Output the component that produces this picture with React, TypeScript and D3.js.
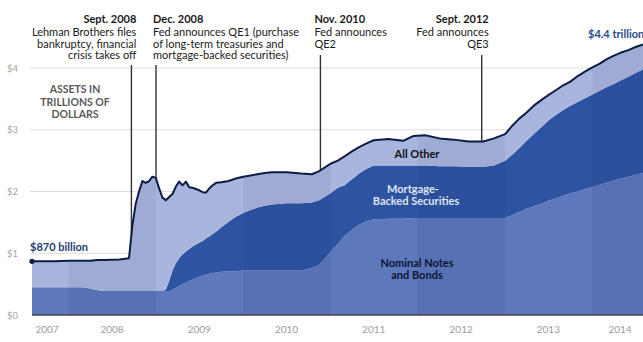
import React from "react";
import * as d3 from "d3";

const dates = [
  "2007-08-01","2007-11-01","2008-01-01","2008-03-01","2008-04-01","2008-05-01","2008-06-01","2008-08-01","2008-09-10","2008-09-24",
  "2008-10-08","2008-10-22","2008-11-05","2008-11-19","2008-12-03","2008-12-17","2008-12-31","2009-01-14","2009-01-28","2009-02-11",
  "2009-02-25","2009-03-11","2009-03-25","2009-04-08","2009-04-22","2009-05-06","2009-05-20","2009-06-03","2009-06-17","2009-07-01",
  "2009-07-15","2009-07-29","2009-08-12","2009-08-26","2009-09-09","2009-10-01","2009-11-01","2009-12-01","2010-01-01","2010-02-01",
  "2010-03-01","2010-04-01","2010-05-01","2010-07-01","2010-09-01","2010-10-15","2010-11-15","2011-01-01","2011-02-01","2011-03-01",
  "2011-04-01","2011-05-01","2011-06-01","2011-07-01","2011-09-01","2011-11-01","2011-12-15","2012-02-01","2012-04-01","2012-06-01",
  "2012-08-01","2012-10-01","2012-11-15","2013-01-01","2013-02-01","2013-03-01","2013-04-01","2013-05-01","2013-06-01","2013-07-01",
  "2013-08-01","2013-09-01","2013-10-01","2013-11-01","2013-12-01","2014-01-01","2014-02-01","2014-03-01","2014-04-01","2014-05-01",
  "2014-06-01","2014-07-01","2014-08-01",
];

const totalAssets = [
  0.87,0.87,0.88,0.88,0.88,0.89,0.89,0.9,0.92,1.45,
  1.8,2.0,2.17,2.14,2.17,2.24,2.22,2.05,1.9,1.86,
  1.91,1.96,2.08,2.16,2.1,2.16,2.07,2.06,2.04,2.02,
  1.99,1.98,2.05,2.1,2.14,2.15,2.17,2.21,2.24,2.26,
  2.28,2.3,2.31,2.31,2.29,2.28,2.33,2.45,2.5,2.57,
  2.65,2.72,2.78,2.83,2.85,2.82,2.9,2.91,2.86,2.84,
  2.81,2.81,2.86,2.93,3.07,3.18,3.28,3.39,3.48,3.56,
  3.64,3.72,3.78,3.87,3.94,4.01,4.07,4.14,4.2,4.25,
  4.29,4.34,4.38,
];

const nominalNotes = [
  0.45,0.45,0.45,0.45,0.43,0.4,0.39,0.39,0.39,0.39,
  0.39,0.39,0.39,0.39,0.39,0.39,0.39,0.39,0.39,0.39,
  0.39,0.41,0.44,0.47,0.5,0.53,0.55,0.57,0.6,0.62,
  0.64,0.65,0.67,0.68,0.69,0.7,0.71,0.71,0.72,0.72,
  0.72,0.72,0.72,0.72,0.72,0.76,0.81,1.02,1.15,1.28,
  1.38,1.46,1.52,1.55,1.56,1.56,1.57,1.57,1.57,1.57,
  1.57,1.57,1.57,1.57,1.62,1.67,1.72,1.76,1.8,1.85,
  1.89,1.93,1.97,2.0,2.04,2.07,2.11,2.14,2.18,2.21,
  2.24,2.27,2.3,
];

const mortgageBacked = [
  0,0,0,0,0,0,0,0,0,0,
  0,0,0,0,0,0,0,0,0,0.02,
  0.16,0.31,0.4,0.45,0.48,0.5,0.52,0.54,0.54,0.55,
  0.56,0.59,0.6,0.63,0.66,0.72,0.8,0.88,0.93,0.98,
  1.02,1.05,1.07,1.09,1.09,1.06,1.05,0.95,0.91,0.82,
  0.82,0.83,0.85,0.87,0.86,0.86,0.85,0.85,0.84,0.84,
  0.83,0.83,0.85,0.93,0.98,1.03,1.1,1.17,1.24,1.3,
  1.35,1.39,1.42,1.45,1.47,1.5,1.52,1.55,1.56,1.59,
  1.62,1.65,1.68,
];

const yTicks = [0, 1, 2, 3, 4];
const yearLabels = ["2007","2008","2009","2010","2011","2012","2013","2014"];

const eventDates = ["2008-09-20", "2009-01-01", "2010-11-20", "2012-09-25"];
const eventTitles = ["Sept. 2008", "Dec. 2008", "Nov. 2010", "Sept. 2012"];
const eventTexts = [
  ["Lehman Brothers files", "bankruptcy, financial", "crisis takes off"],
  ["Fed announces QE1 (purchase", "of long-term treasuries and", "mortgage-backed securities)"],
  ["Fed announces", "QE2"],
  ["Fed announces", "QE3"],
];
const eventSides = ["right", "left", "left", "right"];

const W = 643;
const H = 342;
const FONT = "Lato, 'Open Sans', sans-serif";

export default function App() {
  const parse = d3.timeParse("%Y-%m-%d");
  const rows = dates.map((d, i) => ({
    date: parse(d) as Date,
    nominal: nominalNotes[i],
    mbs: mortgageBacked[i],
    other: Math.max(0, totalAssets[i] - nominalNotes[i] - mortgageBacked[i]),
    total: totalAssets[i],
  }));

  const x = d3.scaleTime()
    .domain([parse("2007-08-01") as Date, parse("2014-08-01") as Date])
    .range([32, W]);
  const y = d3.scaleLinear().domain([0, 4]).range([315, 68]);

  const stack = d3.stack<any>().keys(["nominal", "mbs", "other"]);
  const series = stack(rows);
  const colors = ["#5d78bb", "#2e54a1", "#a8b5dc"];

  const area = d3.area<any>()
    .x((d: any) => x(d.data.date))
    .y0((d: any) => y(d[0]))
    .y1((d: any) => y(d[1]));

  const totalLine = d3.line<any>()
    .x((d: any) => x(d.date))
    .y((d: any) => y(d.total));

  const clipArea = d3.area<any>()
    .x((d: any) => x(d.date))
    .y0(y(0))
    .y1((d: any) => y(d.total));

  const bisect = d3.bisector((d: any) => d.date).left;
  const totalAt = (dt: Date) => {
    const i = Math.max(1, Math.min(rows.length - 1, bisect(rows, dt)));
    const a = rows[i - 1], b = rows[i];
    const t = (dt.getTime() - a.date.getTime()) / (b.date.getTime() - a.date.getTime());
    return a.total + (b.total - a.total) * t;
  };

  const years = d3.range(2007, 2015);
  const first = rows[0];
  const last = rows[rows.length - 1];

  return (
    <svg width={W} height={H} style={{ position: "absolute", left: 0, top: 0, background: "#fff" }} fontFamily={FONT}>
      <defs>
        <clipPath id="under">
          <path d={clipArea(rows) as string} />
        </clipPath>
      </defs>

      {/* gridlines */}
      {yTicks.filter((t) => t > 0).map((t) => (
        <line key={t} x1={30} x2={W} y1={y(t)} y2={y(t)} stroke="#dcdcdc" strokeWidth={1} />
      ))}
      {yTicks.map((t) => (
        <text key={"yl" + t} x={7} y={y(t) + 3.5} fontSize={9.5} fill="#a5a5a5">{"$" + t}</text>
      ))}

      {/* stacked areas */}
      {series.map((s, i) => (
        <path key={i} d={area(s as any) as string} fill={colors[i]} />
      ))}

      {/* alternating year bands */}
      <g clipPath="url(#under)">
        {years.filter((yr) => yr % 2 === 0).map((yr) => {
          const x0 = x(new Date(yr, 0, 1));
          const x1 = x(new Date(yr + 1, 0, 1));
          return <rect key={yr} x={x0} y={0} width={x1 - x0} height={y(0)} fill="#0a1640" opacity={0.06} />;
        })}
      </g>

      {/* annotation lines */}
      {eventDates.map((ed, i) => {
        const dt = parse(ed) as Date;
        const lx = x(dt);
        const top = i < 2 ? 65 : 55;
        return <line key={"ev" + i} x1={lx} x2={lx} y1={top} y2={y(totalAt(dt))} stroke="#333" strokeWidth={1.4} />;
      })}

      {/* total line */}
      <path d={totalLine(rows) as string} fill="none" stroke="#0c1c44" strokeWidth={2} strokeLinejoin="round" />
      <circle cx={x(first.date)} cy={y(first.total)} r={2.6} fill="#0c1c44" />

      {/* bottom axis */}
      <line x1={32} x2={W} y1={y(0)} y2={y(0)} stroke="#444" strokeWidth={1.5} />
      {yearLabels.map((lab, i) => {
        const mid = x(new Date(years[i], 6, 1));
        const cx = Math.min(Math.max(mid, 47), 620);
        return (
          <text key={lab} x={cx} y={333} textAnchor="middle" fontSize={10} fill="#9c9c9c">{lab}</text>
        );
      })}

      {/* event text */}
      {eventDates.map((ed, i) => {
        const lx = x(parse(ed) as Date);
        const right = eventSides[i] === "right";
        const tx = right ? lx + (i === 0 ? 5 : 7) : lx - (i === 1 ? 3 : 6);
        const anchor = right ? "end" : "start";
        return (
          <g key={"et" + i}>
            <text x={tx} y={23} textAnchor={anchor} fontSize={11} fontWeight={700} fill="#1a1a1a">{eventTitles[i]}</text>
            {eventTexts[i].map((ln, j) => (
              <text key={j} x={tx} y={36 + j * 11.6} textAnchor={anchor} fontSize={11} fill="#1a1a1a">{ln}</text>
            ))}
          </g>
        );
      })}

      {/* axis title */}
      {["ASSETS IN", "TRILLIONS OF", "DOLLARS"].map((t, j) => (
        <text key={t} x={75} y={93 + j * 12.6} textAnchor="middle" fontSize={10.5} fontWeight={700} fill="#5a5a5a">{t}</text>
      ))}

      {/* value labels */}
      <text x={30} y={251} fontSize={11} fontWeight={700} fill="#1d3d78">$870 billion</text>
      <text x={588} y={38} fontSize={11} fontWeight={700} fill="#1f4a8c">{"$" + last.total.toFixed(1).replace("4.4", "4.4") + " trillion"}</text>

      {/* layer labels */}
      <text x={417} y={158} textAnchor="middle" fontSize={11} fontWeight={700} fill="#111">All Other</text>
      <text x={413} y={193} textAnchor="middle" fontSize={11} fontWeight={700} fill="#dfe5f5">Mortgage-</text>
      <text x={416} y={204.5} textAnchor="middle" fontSize={11} fontWeight={700} fill="#dfe5f5">Backed Securities</text>
      <text x={417} y={267} textAnchor="middle" fontSize={11} fontWeight={700} fill="#0b1530">Nominal Notes</text>
      <text x={417} y={278.5} textAnchor="middle" fontSize={11} fontWeight={700} fill="#0b1530">and Bonds</text>
    </svg>
  );
}
